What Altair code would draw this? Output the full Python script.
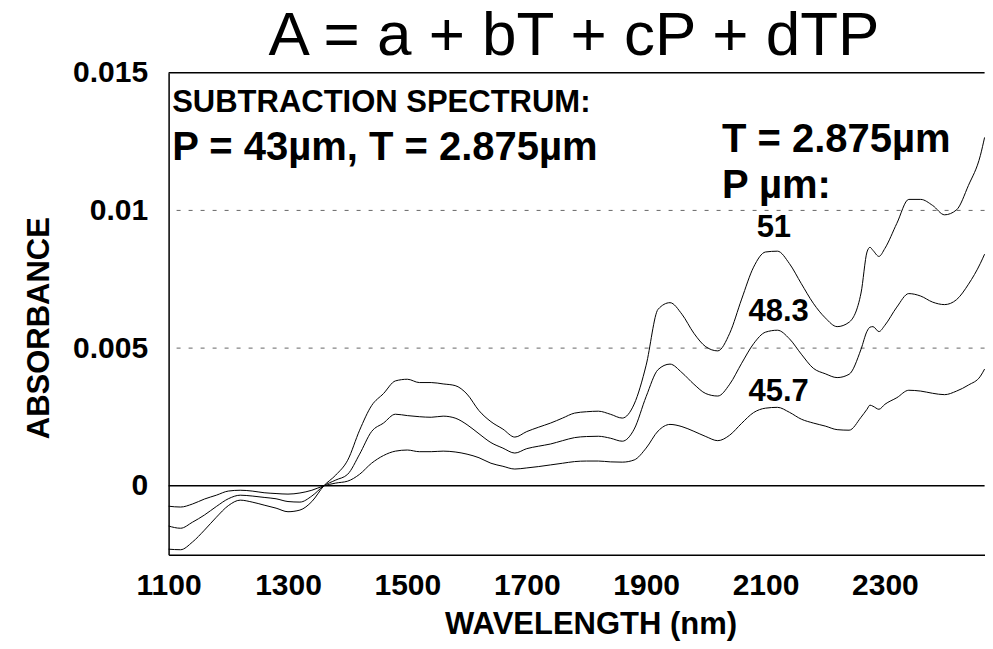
import altair as alt
import pandas as pd

# ---------------- data ----------------
wavelength = [
    1100, 1120, 1140, 1160, 1180, 1200, 1220, 1240, 1260, 1280,
    1300, 1320, 1340, 1360, 1380, 1400, 1420, 1440, 1460, 1480,
    1500, 1520, 1540, 1560, 1580, 1600, 1620, 1640, 1660, 1680,
    1700, 1720, 1740, 1760, 1780, 1800, 1820, 1840, 1860, 1880,
    1900, 1920, 1940, 1960, 1980, 2000, 2020, 2040, 2060, 2080,
    2100, 2120, 2140, 2160, 2180, 2200, 2220, 2240, 2260, 2270,
    2275, 2280, 2290, 2300, 2320, 2340, 2360, 2380, 2400, 2420,
    2440, 2460, 2467,
]

absorbance_51 = [
    -0.00230, -0.00232, -0.00204, -0.00161, -0.00114, -0.00072, -0.00052, -0.00059, -0.00070, -0.00081,
    -0.00094, -0.00088, -0.00057, 0.00000, 0.00039, 0.00093, 0.00202, 0.00291, 0.00335, 0.00381,
    0.00387, 0.00375, 0.00375, 0.00370, 0.00364, 0.00333, 0.00273, 0.00233, 0.00206, 0.00177,
    0.00197, 0.00213, 0.00228, 0.00246, 0.00264, 0.00269, 0.00271, 0.00260, 0.00246, 0.00297,
    0.00438, 0.00641, 0.00665, 0.00623, 0.00554, 0.00505, 0.00490, 0.00554, 0.00678, 0.00794,
    0.00849, 0.00852, 0.00807, 0.00734, 0.00663, 0.00610, 0.00578, 0.00594, 0.00700, 0.00849,
    0.00866, 0.00855, 0.00833, 0.00862, 0.00953, 0.01040, 0.01040, 0.01018, 0.00984, 0.01002,
    0.01091, 0.01200, 0.01265,
]

absorbance_48_3 = [
    -0.00146, -0.00154, -0.00132, -0.00106, -0.00075, -0.00047, -0.00034, -0.00037, -0.00042, -0.00047,
    -0.00057, -0.00059, -0.00037, 0.00000, 0.00021, 0.00042, 0.00115, 0.00197, 0.00228, 0.00260,
    0.00255, 0.00251, 0.00249, 0.00253, 0.00246, 0.00222, 0.00189, 0.00157, 0.00137, 0.00119,
    0.00135, 0.00144, 0.00152, 0.00164, 0.00175, 0.00179, 0.00180, 0.00173, 0.00162, 0.00206,
    0.00324, 0.00422, 0.00442, 0.00411, 0.00369, 0.00335, 0.00326, 0.00369, 0.00445, 0.00516,
    0.00558, 0.00565, 0.00534, 0.00478, 0.00427, 0.00407, 0.00393, 0.00405, 0.00496, 0.00561,
    0.00576, 0.00578, 0.00560, 0.00583, 0.00649, 0.00698, 0.00689, 0.00667, 0.00658, 0.00676,
    0.00732, 0.00808, 0.00841,
]

absorbance_45_7 = [
    -0.00074, -0.00077, -0.00066, -0.00048, -0.00034, -0.00019, -0.00016, -0.00019, -0.00025, -0.00028,
    -0.00030, -0.00026, -0.00016, 0.00000, 0.00010, 0.00017, 0.00042, 0.00082, 0.00110, 0.00126,
    0.00130, 0.00124, 0.00124, 0.00126, 0.00123, 0.00115, 0.00102, 0.00082, 0.00071, 0.00061,
    0.00065, 0.00070, 0.00076, 0.00082, 0.00088, 0.00090, 0.00090, 0.00087, 0.00086, 0.00094,
    0.00137, 0.00199, 0.00223, 0.00215, 0.00198, 0.00179, 0.00164, 0.00184, 0.00227, 0.00266,
    0.00282, 0.00285, 0.00267, 0.00242, 0.00228, 0.00217, 0.00204, 0.00202, 0.00249, 0.00278,
    0.00293, 0.00289, 0.00278, 0.00296, 0.00320, 0.00347, 0.00344, 0.00336, 0.00331, 0.00344,
    0.00366, 0.00398, 0.00424,
]

series_names = ["51", "48.3", "45.7"]

x_tick_values = [1100, 1300, 1500, 1700, 1900, 2100, 2300]
y_tick_values = [0, 0.005, 0.01, 0.015]
grid_levels = [0.005, 0.01]
frame_levels = [0, 0.015]

# chart heading, anchored (in data units) above the plot
title_text = ["A = a + bT + cP + dTP"]
title_wl = [1779]
title_abs = [0.01566]

# annotation texts with their anchor points in data units
head_text = ["SUBTRACTION SPECTRUM:"]
head_wl = [1106]
head_abs = [0.01356]

big_text = ["P = 43µm, T = 2.875µm", "T = 2.875µm", "P µm:"]
big_wl = [1106, 2027, 2027]
big_abs = [0.01182, 0.01211, 0.01045]

curve_text = ["51", "48.3", "45.7"]
curve_wl = [2114, 2122, 2122]
curve_abs = [0.00902, 0.00597, 0.00307]

# ---------------- build tables ----------------
rows = []
for name, vals in zip(series_names, [absorbance_51, absorbance_48_3, absorbance_45_7]):
    for w, v in zip(wavelength, vals):
        rows.append({"wavelength": w, "absorbance": v, "series": name})
spectra = pd.DataFrame(rows)

FONT = "Liberation Sans"
x_scale = alt.Scale(domain=[1100, 2467], nice=False, zero=False)
y_scale = alt.Scale(domain=[-0.0025, 0.015], nice=False, zero=False)

x_axis = alt.Axis(
    title="WAVELENGTH (nm)", values=x_tick_values, format="d", ticks=False, grid=False,
    domainColor="black", domainWidth=1.5,
    labelFont=FONT, labelFontSize=30, labelFontWeight="bold", labelColor="black",
    labelPadding=16, labelOverlap=False, labelFlush=False,
    titleFont=FONT, titleFontSize=31, titleFontWeight="bold", titleColor="black",
    titleX=422, titleY=79, titleAlign="center", titleBaseline="alphabetic",
)
y_axis = alt.Axis(
    title="ABSORBANCE", values=y_tick_values, format="~g", ticks=False, grid=False,
    domainColor="black", domainWidth=1.5,
    labelFont=FONT, labelFontSize=30, labelFontWeight="bold", labelColor="black",
    labelPadding=21, labelOverlap=False, labelFlush=False,
    titleFont=FONT, titleFontSize=31, titleFontWeight="bold", titleColor="black",
    titleAngle=270, titleX=-120, titleY=255, titleAlign="center", titleBaseline="alphabetic",
)

X = alt.X("wavelength:Q", scale=x_scale, axis=x_axis)
Y = alt.Y("absorbance:Q", scale=y_scale, axis=y_axis)

lines = alt.Chart(spectra).mark_line(
    color="black", strokeWidth=1, interpolate="monotone"
).encode(x=X, y=Y, detail="series:N")

grid = alt.Chart(pd.DataFrame({"absorbance": grid_levels})).mark_rule(
    color="#666666", strokeWidth=1, strokeDash=[4, 8]
).encode(y=alt.Y("absorbance:Q", scale=y_scale))

frame = alt.Chart(pd.DataFrame({"absorbance": frame_levels})).mark_rule(
    color="black", strokeWidth=1.5
).encode(y=alt.Y("absorbance:Q", scale=y_scale))


def text_layer(wl, ab, txt, size, align, weight):
    return alt.Chart(pd.DataFrame({"wavelength": wl, "absorbance": ab, "text": txt})).mark_text(
        align=align, baseline="alphabetic", font=FONT, fontWeight=weight, fontSize=size, color="black"
    ).encode(
        x=alt.X("wavelength:Q", scale=x_scale),
        y=alt.Y("absorbance:Q", scale=y_scale),
        text="text:N",
    )


heading = text_layer(title_wl, title_abs, title_text, 62, "center", "normal")
head = text_layer(head_wl, head_abs, head_text, 31, "left", "bold")
big = text_layer(big_wl, big_abs, big_text, 40, "left", "bold")
curve_labels = text_layer(curve_wl, curve_abs, curve_text, 31, "center", "bold")

chart = alt.layer(grid, frame, lines, heading, head, big, curve_labels).properties(
    width=816,
    height=482,
    padding={"left": 160.6, "top": 64.7, "right": 0, "bottom": 86},
    autosize=alt.AutoSizeParams(type="none"),
).configure_view(stroke=None)

chart.save("out.html", embed_options={"renderer": "svg", "actions": False})
